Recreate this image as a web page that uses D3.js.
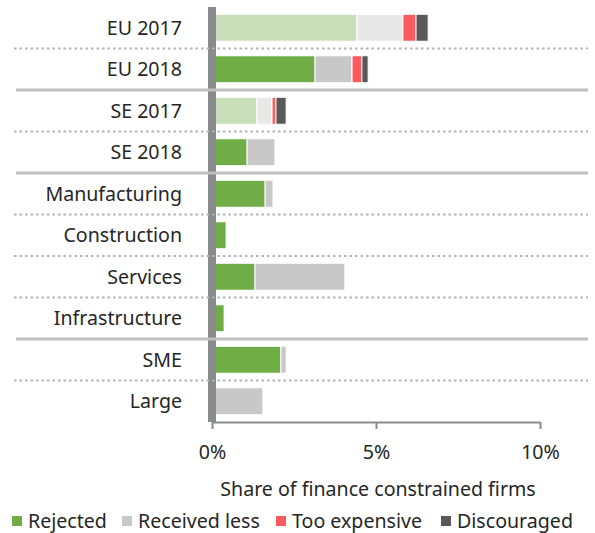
<!DOCTYPE html>
<html>
<head>
<meta charset="utf-8">
<script src="https://cdn.jsdelivr.net/npm/d3@7"></script>
<style>
  body { margin: 0; background: #fff; }
  svg text { font-family: "Noto Sans", "Open Sans", sans-serif; fill: #262626; }
</style>
</head>
<body>
<svg id="chart" width="595" height="533"></svg>
<script>
// categories, top to bottom
const categories = ["EU 2017", "EU 2018", "SE 2017", "SE 2018", "Manufacturing",
                    "Construction", "Services", "Infrastructure", "SME", "Large"];
// series values, in % of firms
const rejected      = [4.42, 3.14, 1.37, 1.07, 1.62, 0.43, 1.31, 0.37, 2.10, 0.00];
const receivedLess  = [1.40, 1.13, 0.46, 0.85, 0.24, 0.00, 2.74, 0.00, 0.16, 1.55];
const tooExpensive  = [0.40, 0.30, 0.12, 0.00, 0.00, 0.00, 0.00, 0.00, 0.00, 0.00];
const discouraged   = [0.37, 0.19, 0.31, 0.00, 0.00, 0.00, 0.00, 0.00, 0.00, 0.00];
const seriesNames = ["Rejected", "Received less", "Too expensive", "Discouraged"];
const xTicks = [0, 5, 10];
// rows after which a solid group separator is drawn
const groupBreaks = [1, 3, 7];
const faded = ["EU 2017", "SE 2017"];

const colors = ["#70ad47", "#c8c8c8", "#ff5a5f", "#595959"];
const fadedColors = ["#c9dfb9", "#e8e8e8", "#ff5a5f", "#595959"];
const fontSize = "19.6px";

const svg = d3.select("#chart");

const x = d3.scaleLinear().domain([0, 10]).range([212, 540]);
const y = d3.scaleBand().domain(categories).range([7, 422]).paddingInner(0.35).paddingOuter(0.175);

const rows = categories.map(function(c, i) {
  return { cat: c, Rejected: rejected[i], "Received less": receivedLess[i],
           "Too expensive": tooExpensive[i], Discouraged: discouraged[i] };
});
const stacked = d3.stack().keys(seriesNames)(rows);

// bars
const layers = svg.append("g").selectAll("g")
  .data(stacked)
  .enter().append("g");

layers.selectAll("rect")
  .data(function(d, si) { return d.map(function(p) { return { p: p, si: si }; }); })
  .enter().append("rect")
    .filter(function(d) { return d.p[1] - d.p[0] > 0; })
    .attr("x", function(d) { return x(d.p[0]); })
    .attr("y", function(d) { return y(d.p.data.cat); })
    .attr("width", function(d) { return x(d.p[1]) - x(d.p[0]); })
    .attr("height", y.bandwidth())
    .attr("fill", function(d) {
      return faded.indexOf(d.p.data.cat) >= 0 ? fadedColors[d.si] : colors[d.si];
    })
    .attr("stroke", "#fff")
    .attr("stroke-width", 1);

// thick vertical axis band
svg.append("rect")
  .attr("x", 208).attr("y", 7)
  .attr("width", 8).attr("height", 415)
  .attr("fill", "#8a8b8d");

// separators between rows
const step = y.step();
for (let i = 0; i < categories.length - 1; i++) {
  const yLine = 7 + (i + 1) * step;
  if (groupBreaks.indexOf(i) >= 0) {
    svg.append("line")
      .attr("x1", 16).attr("x2", 588)
      .attr("y1", yLine).attr("y2", yLine)
      .attr("stroke", "#c0c0c0").attr("stroke-width", 3);
  } else {
    svg.append("line")
      .attr("x1", 14).attr("x2", 588)
      .attr("y1", yLine).attr("y2", yLine)
      .attr("stroke", "#b4b4b4").attr("stroke-width", 2)
      .attr("stroke-dasharray", "2.5,3");
  }
}

// category labels
svg.append("g").selectAll("text")
  .data(categories)
  .enter().append("text")
    .attr("x", 182)
    .attr("y", function(d) { return y(d) + y.bandwidth() / 2; })
    .attr("dy", "0.35em")
    .attr("text-anchor", "end")
    .style("font-size", fontSize)
    .text(function(d) { return d; });

// x axis
const xAxis = svg.append("g")
  .attr("transform", "translate(0,422)")
  .call(d3.axisBottom(x).tickValues(xTicks).tickSize(7).tickSizeOuter(0)
    .tickFormat(function(d) { return d + "%"; }));
xAxis.select(".domain").attr("stroke", "#8a8b8d").attr("stroke-width", 2);
xAxis.selectAll(".tick line").attr("stroke", "#8a8b8d").attr("stroke-width", 2);
xAxis.selectAll(".tick text")
  .attr("y", 30)
  .attr("dy", "0.35em")
  .style("font-size", fontSize)
  .style("font-family", "\"Noto Sans\", sans-serif")
  .attr("fill", "#262626");

// axis title
svg.append("text")
  .attr("x", 378).attr("y", 489)
  .attr("dy", "0.35em")
  .attr("text-anchor", "middle")
  .style("font-size", fontSize)
  .text("Share of finance constrained firms");

// legend
const legendX = [12, 122, 276, 441];
const legend = svg.append("g").selectAll("g")
  .data(seriesNames)
  .enter().append("g")
    .attr("transform", function(d, i) { return "translate(" + legendX[i] + ",521)"; });
legend.append("rect")
  .attr("x", 0).attr("y", -5)
  .attr("width", 10).attr("height", 10)
  .attr("fill", function(d, i) { return colors[i]; });
legend.append("text")
  .attr("x", 16).attr("dy", "0.35em")
  .style("font-size", fontSize)
  .text(function(d) { return d; });
</script>
</body>
</html>
